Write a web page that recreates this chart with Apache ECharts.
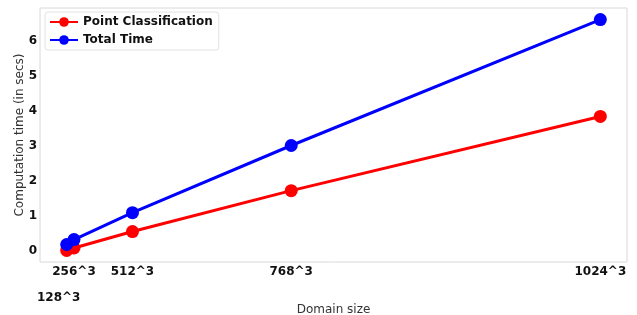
<!DOCTYPE html>
<html>
<head>
<meta charset="utf-8">
<script src="https://cdn.jsdelivr.net/npm/echarts@6/dist/echarts.min.js"></script>
<style>
html, body { margin: 0; padding: 0; background: #fff; }
#main { width: 637px; height: 315px; }
</style>
</head>
<body>
<div id="main"></div>
<script>
// domain sizes (edge length), x is placed by volume n^3
var sizes = [128, 256, 512, 768, 1024];
var pointClass = [0.00, 0.07, 0.54, 1.71, 3.83];
var totalTime = [0.17, 0.31, 1.08, 3.00, 6.60];
var yTicks = [0, 1, 2, 3, 4, 5, 6];

var xVals = sizes.map(function (n) { return n * n * n; });

function pairs(ys) {
    var out = [];
    for (var i = 0; i < xVals.length; i++) {
        out.push([xVals[i], ys[i]]);
    }
    return out;
}

var myChart = echarts.init(document.getElementById('main'));

var font = 'DejaVu Sans';

option = {
    animation: false,
    backgroundColor: '#fff',
    grid: {
        left: 40, right: 10, top: 8, bottom: 53,
        containLabel: false,
        outerBoundsMode: 'none',
        show: true, borderColor: '#d8d8d8', borderWidth: 1
    },
    legend: {
        orient: 'vertical',
        left: 45, top: 12,
        itemWidth: 28, itemHeight: 12, itemGap: 6,
        padding: [4, 6, 4, 4],
        borderColor: '#e2e2e2', borderWidth: 1, borderRadius: 3,
        textStyle: { fontFamily: font, fontWeight: 'bold', fontSize: 12, color: '#111' },
        data: ['Point Classification', 'Total Time']
    },
    xAxis: {
        type: 'value',
        min: -51.5e6, max: 1127.3e6,
        name: 'Domain size',
        nameLocation: 'middle',
        nameGap: 42,
        nameMoveOverlap: false,
        nameTextStyle: { fontFamily: font, fontSize: 12, color: '#333' },
        axisLine: { show: false },
        axisTick: { show: false },
        splitLine: { show: false },
        axisLabel: {
            customValues: xVals,
            fontFamily: font, fontWeight: 'bold', fontSize: 12, color: '#111',
            margin: 4,
            formatter: function (v) {
                var n = Math.round(Math.cbrt(v));
                if (n === 128) return '{low|' + n + '^3}';
                return n + '^3';
            },
            rich: {
                low: { fontFamily: font, fontWeight: 'bold', fontSize: 12, color: '#111', padding: [26, 16, 0, 0] }
            }
        }
    },
    yAxis: {
        type: 'value',
        min: -0.33, max: 6.93,
        name: 'Computation time (in secs)',
        nameLocation: 'middle',
        nameGap: 14,
        nameMoveOverlap: false,
        nameTextStyle: { fontFamily: font, fontSize: 12, color: '#333' },
        axisLine: { show: false },
        axisTick: { show: false },
        splitLine: { show: false },
        axisLabel: {
            customValues: yTicks,
            fontFamily: font, fontWeight: 'bold', fontSize: 12, color: '#111',
            margin: 3
        }
    },
    series: [{
        name: 'Point Classification',
        type: 'line',
        data: pairs(pointClass),
        symbol: 'circle', symbolSize: 13,
        itemStyle: { color: '#ff0000' },
        lineStyle: { color: '#ff0000', width: 3 }
    }, {
        name: 'Total Time',
        type: 'line',
        data: pairs(totalTime),
        symbol: 'circle', symbolSize: 13,
        itemStyle: { color: '#0000ff' },
        lineStyle: { color: '#0000ff', width: 3 }
    }]
};
myChart.setOption(option);
</script>
</body>
</html>
